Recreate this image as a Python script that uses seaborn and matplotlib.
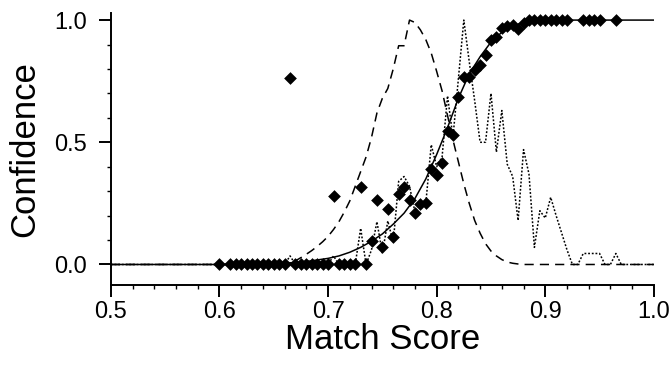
"""
Curva de confianza vs. puntuación de coincidencia.
Diamantes: confianza observada por intervalo; línea continua: ajuste;
discontinua y punteada: distribuciones normalizadas.
"""
import matplotlib
matplotlib.use('Agg')
import matplotlib.pyplot as plt
import numpy as np
import pandas as pd
import seaborn as sns
from matplotlib.ticker import MultipleLocator

# ============================================================
# DATOS
# ============================================================
diamante_x = [
    0.600, 0.610, 0.615, 0.620, 0.625, 0.630, 0.635, 0.640, 0.645, 0.650,
    0.655, 0.660, 0.665, 0.670, 0.675, 0.680, 0.685, 0.690, 0.695, 0.700,
    0.705, 0.710, 0.715, 0.720, 0.725, 0.730, 0.735, 0.740, 0.745, 0.750,
    0.755, 0.760, 0.765, 0.770, 0.775, 0.780, 0.785, 0.790, 0.795, 0.800,
    0.805, 0.810, 0.815, 0.820, 0.825, 0.830, 0.835, 0.840, 0.845, 0.850,
    0.855, 0.860, 0.865, 0.870, 0.875, 0.880, 0.885, 0.890, 0.895, 0.900,
    0.905, 0.910, 0.915, 0.920, 0.935, 0.940, 0.945, 0.950, 0.965,
]
diamante_y = [
    0.0, 0.0, 0.0, 0.0, 0.0, 0.0, 0.0, 0.0, 0.0, 0.0,
    0.0, 0.0, 0.764, 0.0, 0.0, 0.0, 0.0, 0.0, 0.0, 0.0,
    0.281, 0.0, 0.0, 0.0, 0.0, 0.316, 0.0, 0.097, 0.264, 0.073,
    0.226, 0.111, 0.288, 0.316, 0.264, 0.209, 0.247, 0.253, 0.391, 0.366,
    0.416, 0.547, 0.530, 0.686, 0.768, 0.768, 0.795, 0.816, 0.857, 0.918,
    0.929, 0.966, 0.977, 0.980, 0.962, 0.989, 1.0, 1.0, 1.0, 1.0,
    1.0, 1.0, 1.0, 1.0, 1.0, 1.0, 1.0, 1.0, 1.0,
]

ajuste_x = [0.50, 0.60, 0.64, 0.66, 0.68, 0.70, 0.71, 0.72, 0.73, 0.74,
            0.75, 0.76, 0.77, 0.78, 0.79, 0.80, 0.81, 0.82, 0.83, 0.84,
            0.85, 0.86, 0.87, 0.88, 0.90, 0.92, 1.00]
ajuste_y = [0.0, 0.0, 0.002, 0.005, 0.012, 0.025, 0.035, 0.05, 0.07, 0.095,
            0.125, 0.165, 0.21, 0.27, 0.35, 0.45, 0.56, 0.68, 0.78, 0.85,
            0.91, 0.95, 0.975, 0.99, 0.998, 1.0, 1.0]

discontinua_x = [0.50, 0.66, 0.665, 0.67, 0.675, 0.68, 0.685, 0.69, 0.695, 0.70,
                 0.705, 0.71, 0.715, 0.72, 0.725, 0.73, 0.735, 0.74, 0.745, 0.75,
                 0.755, 0.76, 0.765, 0.77, 0.775, 0.78, 0.785, 0.79, 0.795, 0.80,
                 0.805, 0.81, 0.815, 0.82, 0.825, 0.83, 0.835, 0.84, 0.845, 0.85,
                 0.855, 0.86, 0.865, 0.87, 0.875, 0.88, 1.00]
discontinua_y = [0.0, 0.0, 0.005, 0.015, 0.028, 0.042, 0.057, 0.074, 0.093, 0.115,
                 0.143, 0.175, 0.215, 0.26, 0.32, 0.38, 0.44, 0.52, 0.62, 0.68,
                 0.72, 0.80, 0.895, 0.895, 1.0, 0.99, 0.96, 0.92, 0.865, 0.79,
                 0.71, 0.61, 0.51, 0.42, 0.33, 0.25, 0.18, 0.128, 0.085, 0.055,
                 0.035, 0.02, 0.01, 0.005, 0.002, 0.0, 0.0]

punteada_x = [0.50, 0.66, 0.665, 0.67, 0.70, 0.705, 0.71, 0.725, 0.73, 0.735,
              0.74, 0.745, 0.75, 0.755, 0.76, 0.765, 0.77, 0.775, 0.78, 0.785,
              0.79, 0.795, 0.80, 0.805, 0.81, 0.815, 0.82, 0.825, 0.83, 0.835,
              0.84, 0.845, 0.85, 0.855, 0.86, 0.865, 0.87, 0.875, 0.88, 0.885,
              0.89, 0.895, 0.90, 0.905, 0.91, 0.915, 0.92, 0.925, 0.93, 0.935,
              0.94, 0.945, 0.95, 0.955, 0.96, 0.965, 0.97, 1.00]
punteada_y = [0.0, 0.0, 0.035, 0.0, 0.0, 0.035, 0.0, 0.0, 0.148, 0.0,
              0.06, 0.175, 0.045, 0.178, 0.09, 0.34, 0.36, 0.32, 0.215, 0.25,
              0.25, 0.49, 0.40, 0.44, 0.69, 0.52, 0.76, 1.0, 0.83, 0.67,
              0.50, 0.50, 0.70, 0.46, 0.63, 0.41, 0.36, 0.18, 0.47, 0.37,
              0.07, 0.22, 0.19, 0.275, 0.20, 0.13, 0.06, 0.0, 0.0, 0.045,
              0.045, 0.045, 0.045, 0.0, 0.0, 0.045, 0.0, 0.0]

FUENTE = ['Liberation Sans', 'DejaVu Sans']

sns.set_theme(style='ticks')
plt.rcParams.update({
    'font.family': FUENTE,
    'axes.linewidth': 1.4,
    'xtick.major.width': 1.4,
    'ytick.major.width': 1.4,
    'xtick.minor.width': 1.0,
    'ytick.minor.width': 1.0,
    'xtick.color': 'black',
    'ytick.color': 'black',
    'axes.edgecolor': 'black',
    'text.color': 'black',
    'axes.labelcolor': 'black',
})

fig = plt.figure(figsize=(6.72, 3.67), dpi=100)
ax = fig.add_axes([0.165, 0.2234, 0.808, 0.7412])

df_ajuste = pd.DataFrame({'x': ajuste_x, 'y': ajuste_y})
df_disc = pd.DataFrame({'x': discontinua_x, 'y': discontinua_y})
df_punt = pd.DataFrame({'x': punteada_x, 'y': punteada_y})
df_diam = pd.DataFrame({'x': diamante_x, 'y': diamante_y})

# Distribución discontinua
sns.lineplot(data=df_disc, x='x', y='y', ax=ax, color='black', lw=1.1,
             estimator=None, sort=False)
ax.lines[-1].set_dashes((6, 4))
# Distribución punteada
sns.lineplot(data=df_punt, x='x', y='y', ax=ax, color='black', lw=1.1,
             estimator=None, sort=False)
ax.lines[-1].set_dashes((1.2, 1.2))
# Curva de ajuste
sns.lineplot(data=df_ajuste, x='x', y='y', ax=ax, color='black', lw=1.1,
             estimator=None, sort=False)
# Confianza observada
sns.scatterplot(data=df_diam, x='x', y='y', ax=ax, color='black', marker='D',
                s=42, linewidth=0, zorder=5)

ax.set_xlim(0.5, 1.0)
ax.set_ylim(-0.084, 1.029)
ax.set_xticks([0.5, 0.6, 0.7, 0.8, 0.9, 1.0])
ax.set_xticklabels(['0.5', '0.6', '0.7', '0.8', '0.9', '1.0'])
ax.set_yticks([0.0, 0.5, 1.0])
ax.set_yticklabels(['0.0', '0.5', '1.0'])
ax.xaxis.set_minor_locator(MultipleLocator(0.02))
ax.yaxis.set_minor_locator(MultipleLocator(0.1))
ax.tick_params(which='major', length=8.5, labelsize=17)
ax.tick_params(axis='x', which='major', pad=3)
ax.tick_params(axis='y', which='major', pad=9)
ax.tick_params(which='minor', length=3)

ax.set_xlabel('Match Score', fontsize=25, labelpad=0)
ax.set_ylabel('Confidence', fontsize=25, labelpad=9)

sns.despine(ax=ax)

fig.savefig('out.png', dpi=100, facecolor='white')
plt.close(fig)
